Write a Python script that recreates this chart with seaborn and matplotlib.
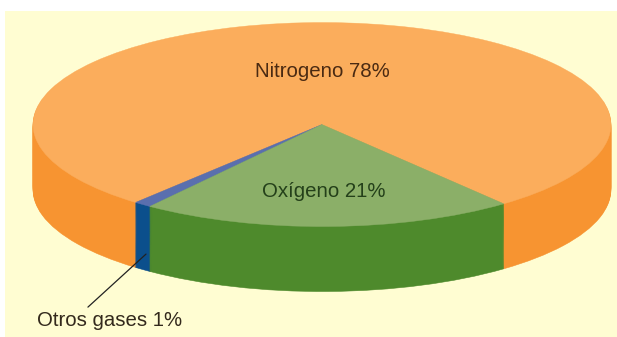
import matplotlib
matplotlib.use("Agg")
import matplotlib.pyplot as plt
import seaborn as sns
import numpy as np

# datos de la atmosfera
gases = ['Nitrogeno', 'Otros gases', 'Oxigeno']
percent = [78, 1, 21]
top_colors = ['#FBAD5C', '#5A6FAE', '#8BAF68']
side_colors = ['#F79431', '#0B4F8C', '#4E8A2C']

sns.set_theme(style='white')
plt.rcParams['font.family'] = ['Liberation Sans', 'DejaVu Sans']

fig = plt.figure(figsize=(6.17, 3.37), dpi=100, facecolor='white')
# fondo amarillo, deja margen blanco arriba y a la izquierda
ax = fig.add_axes([5 / 617, 0, 612 / 617, 326 / 337])

start = -51
depth = 0.637

# el canto se hace apilando tartas desplazadas hacia abajo
for d in np.linspace(depth, 0.01, 66):
    wedges, _ = ax.pie(percent, colors=side_colors, startangle=start, center=(0, -d))
    for w in wedges:
        w.set_edgecolor(w.get_facecolor())
        w.set_linewidth(0.4)
wedges, _ = ax.pie(percent, colors=top_colors, startangle=start)
for w in wedges:
    w.set_edgecolor(w.get_facecolor())
    w.set_linewidth(0.3)

ax.set_aspect('auto')
ax.set_xlim(-1.097, 1.021)
ax.set_ylim(-2.083, 1.113)
ax.set_frame_on(True)
ax.set_facecolor('#FFFDD2')
sns.despine(ax=ax, left=True, bottom=True)
ax.set_xticks([])
ax.set_yticks([])

text_color = '#33291C'
ax.text(0, 0.515, f'{gases[0]} {percent[0]}%', ha='center', va='center',
        fontsize=14.7, color='#4A2A12')
ax.text(0.007, -0.652, 'Oxígeno 21%', ha='center', va='center',
        fontsize=14.7, color='#24401A')
ax.annotate(f'{gases[1]} {percent[1]}%', xy=(-0.609, -1.27), xytext=(-0.734, -1.917),
            ha='center', va='center', fontsize=14.7, color=text_color)
ax.plot([-0.81, -0.609], [-1.79, -1.27], color='#222222', lw=0.9)

plt.savefig('out.png', dpi=100)
